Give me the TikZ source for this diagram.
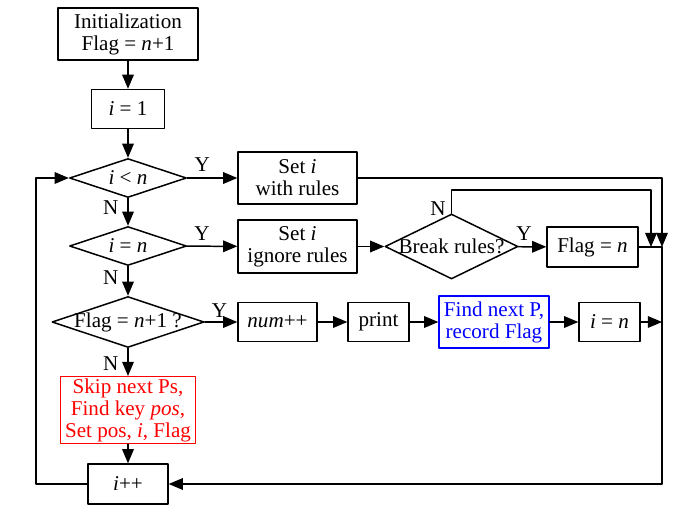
\documentclass[tikz,border=0pt]{standalone}
\usepackage{fontspec}
\setmainfont{Liberation Serif}
\usetikzlibrary{arrows,shapes.geometric}

\begin{document}
\begin{tikzpicture}
			[line cap=round,line join=round,>=triangle 45,x=0.02cm,y=-0.02cm,
			font=\fontsize{12}{12.5}\selectfont,line width=0.85pt,
			box/.style={draw,rectangle,align=center,inner sep=1pt},
			decision/.style={draw,diamond,inner sep=0pt},
			yn/.style={inner sep=1pt}]
			\useasboundingbox (0,0) rectangle (694,514);
			\node[box,minimum width=2.8cm,minimum height=1.04cm] (init) at (128,34) {Initialization\\Flag = \textit{n}+1};
			\node[box,minimum width=1.46cm,minimum height=0.78cm] (ione) at (128,109) {\textit{i} = 1};
			\node[decision,minimum width=2.34cm,minimum height=0.78cm,label=center:{\textit{i} < \textit{n}}] (dless) at (128,178) {};
			\node[decision,minimum width=2.34cm,minimum height=0.78cm,label=center:{\textit{i} = \textit{n}}] (dequal) at (128,246) {};
			\node[decision,minimum width=3.04cm,minimum height=1.02cm,label=center:{Flag = \textit{n}+1 ?}] (dflag) at (128,322) {};
			\node[box,draw=red,text=red,minimum width=2.7cm,minimum height=1.32cm] (skip) at (128,410) {Skip next Ps,\\Find key \textit{pos},\\Set pos, \textit{i}, Flag};
			\node[box,minimum width=1.6cm,minimum height=0.8cm] (iplus) at (128,484) {\textit{i}++};
			\node[box,minimum width=2.38cm,minimum height=1.04cm] (setwith) at (297.5,178) {Set \textit{i}\\with rules};
			\node[box,minimum width=2.38cm,minimum height=1.06cm] (setignore) at (297.5,246.5) {Set \textit{i}\\ignore rules};
			\node[decision,minimum width=2.66cm,minimum height=1.3cm,label=center:{Break rules?}] (dbreak) at (451.5,246.5) {};
			\node[box,minimum width=1.82cm,minimum height=0.8cm] (flagn) at (592.5,247) {Flag = \textit{n}};
			\node[box,minimum width=1.58cm,minimum height=0.78cm] (num) at (277.5,322) {\textit{num}++};
			\node[box,minimum width=1.22cm,minimum height=0.78cm] (print) at (378.5,322) {print};
			\node[box,draw=blue,text=blue,minimum width=2.2cm,minimum height=1.04cm] (findp) at (494,322) {Find next P,\\record Flag};
			\node[box,minimum width=1.22cm,minimum height=0.78cm] (isetn) at (609.5,322) {\textit{i} = \textit{n}};
			\coordinate (rtop) at (662,178);
			\coordinate (rmid) at (662,247);
			\coordinate (rbot) at (662,484);
			\coordinate (ntop) at (651,190);
			\coordinate (nmid) at (651,247);
			\coordinate (lbot) at (36,484);
			\coordinate (ltop) at (36,178);
			%main column
			\draw [->] (init) -- (ione);
			\draw [->] (ione) -- (dless);
			\draw [->] (dless) -- node[yn,pos=0.35,left=4pt] (nless) {N} (dequal);
			\draw [->] (dequal) -- node[yn,pos=0.4,left=4pt] (nequal) {N} (dflag);
			\draw [->] (dflag) -- node[yn,pos=0.55,left=4pt] (nflag) {N} (skip);
			\draw [->] (skip) -- (iplus);
			\draw [->] (iplus.west) -- (lbot) -- (ltop) -- (dless.west);
			%right branches
			\draw [->] (dless) -- node[yn,pos=0.3,above=2pt] (yless) {Y} (setwith);
			\draw [->] (dequal) -- node[yn,pos=0.3,above=2pt] (yequal) {Y} (setignore);
			\draw [->] (setignore) -- (dbreak);
			\draw [->] (dbreak) -- node[yn,pos=0.2,above=2pt] (ybreak) {Y} (flagn);
			\draw [->] (dbreak.north) |- node[yn,pos=0.1,left=2pt] (nbreak) {N} (ntop) -- (nmid);
			\draw [->] (setwith.east) -- (rtop) -- (rmid);
			\draw (flagn.east) -- (rmid);
			\draw [->] (rmid) -- (rbot) -- (iplus.east);
			\draw [->] (dflag) -- node[yn,pos=0.45,above=1pt] (yflag) {Y} (num);
			\draw [->] (num) -- (print);
			\draw [->] (print) -- (findp);
			\draw [->] (findp) -- (isetn);
			\draw [->] (isetn.east) -- (isetn.east -| rmid);
		\end{tikzpicture}
\end{document}
